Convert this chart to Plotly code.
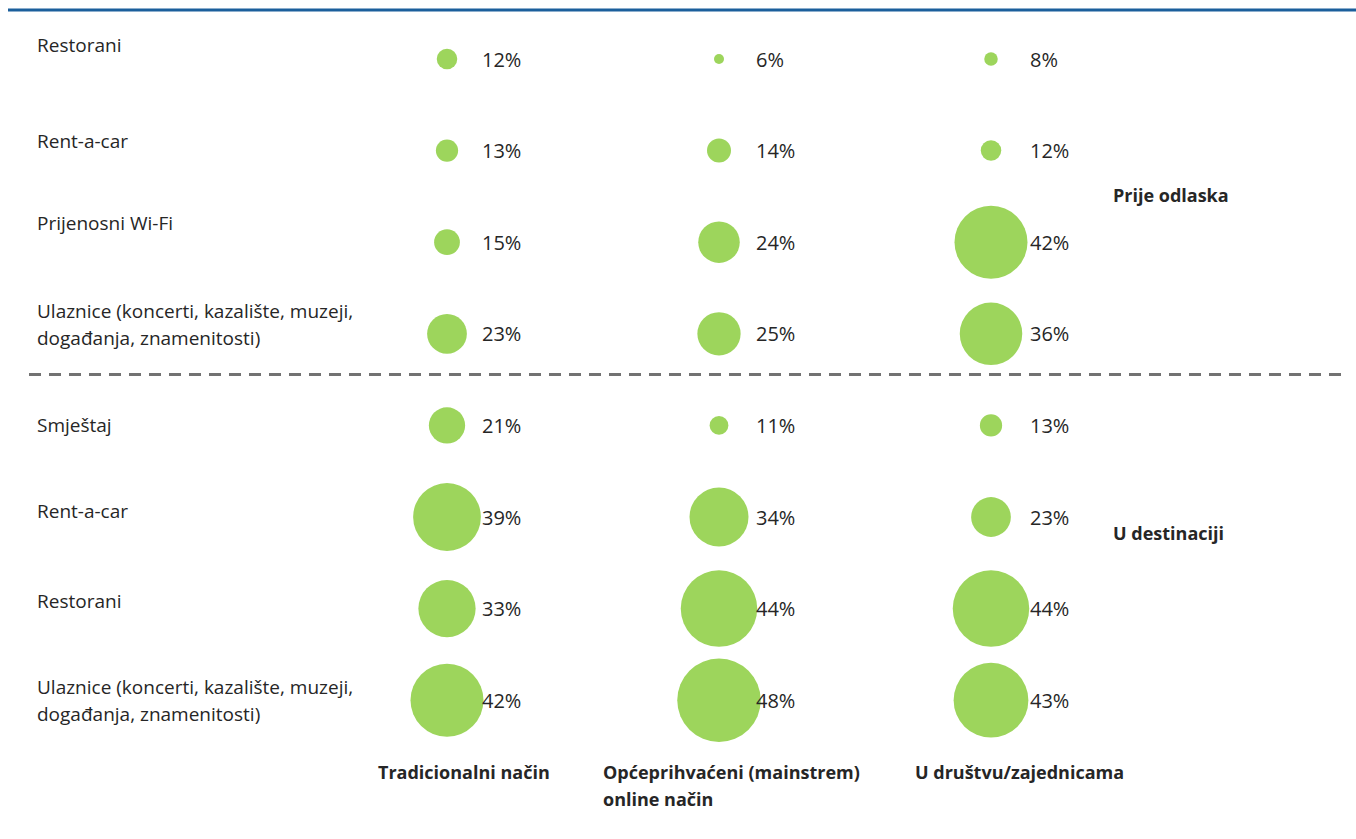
import plotly.graph_objects as go

# Survey categories (rows, top to bottom) and booking channels (columns)
rows = [
    "Restorani",
    "Rent-a-car",
    "Prijenosni Wi-Fi",
    "Ulaznice (koncerti, kazalište, muzeji,\ndogađanja, znamenitosti)",
    "Smještaj",
    "Rent-a-car",
    "Restorani",
    "Ulaznice (koncerti, kazalište, muzeji,\ndogađanja, znamenitosti)",
]
channels = [
    "Tradicionalni način",
    "Općeprihvaćeni (mainstrem)\nonline način",
    "U društvu/zajednicama",
]
groups = ["Prije odlaska", "U destinaciji"]

# Share of respondents (%) per row, one list per channel
tradicionalni = [12, 13, 15, 23, 21, 39, 33, 42]
mainstream = [6, 14, 24, 25, 11, 34, 44, 48]
zajednice = [8, 12, 42, 36, 13, 23, 44, 43]
series = [tradicionalni, mainstream, zajednice]

GREEN = "#9dd55c"
TEXT = "#262626"
FONT = "Open Sans, sans-serif"

W, H = 1356, 839
X0, DX = 447, 272      # pixel centre of first column, column spacing
Y0, DY = 59, 91.6      # pixel centre of first row, row spacing

fig = go.Figure()

for ci, vals in enumerate(series):
    fig.add_trace(go.Scatter(
        x=[ci] * len(vals),
        y=list(range(len(vals))),
        mode="markers",
        marker=dict(
            size=[1.75 * v - 0.5 for v in vals],
            sizemode="diameter",
            color=GREEN,
            opacity=1,
            line=dict(width=0),
        ),
        hovertemplate="%{customdata}%<extra></extra>",
        customdata=vals,
        showlegend=False,
    ))
    for ri, v in enumerate(vals):
        fig.add_annotation(
            x=ci, y=ri, text=f"{v}%", showarrow=False,
            xanchor="left", yanchor="middle", xshift=33 + 2 * ci,
            font=dict(family=FONT, size=20, color=TEXT),
        )

# Row labels on the left
label_shift = [14, 10, 19, 9, 0, 6, 8, 0]
for ri, lab in enumerate(rows):
    lines = lab.split("\n")
    n = len(lines)
    for li, line in enumerate(lines):
        fig.add_annotation(
            x=35 / W, xref="paper", y=ri, yref="y", text=line, showarrow=False,
            xanchor="left", yanchor="middle",
            yshift=label_shift[ri] + (n - 1) * 13.5 - li * 27,
            font=dict(family=FONT, size=19, color=TEXT),
        )

# Group labels on the right
for gi, g in enumerate(groups):
    fig.add_annotation(
        x=1111 / W, xref="paper", y=1 - (195 if gi == 0 else 533) / H, yref="paper",
        text=f"<b>{g}</b>", showarrow=False, xanchor="left", yanchor="middle",
        font=dict(family=FONT, size=18, color=TEXT),
    )

# Column labels under the chart
col_left = [376, 601, 913]
for ci, ch in enumerate(channels):
    for li, line in enumerate(ch.split("\n")):
        fig.add_annotation(
            x=col_left[ci] / W, xref="paper", y=1 - (772 + 27 * li) / H, yref="paper",
            text=f"<b>{line}</b>", showarrow=False, xanchor="left", yanchor="middle",
            font=dict(family=FONT, size=18, color=TEXT),
        )

# Top rule and dashed divider between the two groups
fig.add_shape(type="line", xref="paper", yref="paper",
              x0=8 / W, x1=1, y0=1 - 10 / H, y1=1 - 10 / H,
              line=dict(color="#1b5f9c", width=3))
fig.add_shape(type="line", xref="paper", yref="y",
              x0=29 / W, x1=1347 / W, y0=3.445, y1=3.445,
              line=dict(color="#727272", width=3, dash="12px,8px"))

fig.update_xaxes(range=[-X0 / DX, (W - X0) / DX], visible=False, fixedrange=True)
fig.update_yaxes(range=[(H - Y0) / DY, -Y0 / DY], visible=False, fixedrange=True)
fig.update_layout(
    width=W, height=H,
    margin=dict(l=0, r=0, t=0, b=0),
    paper_bgcolor="white", plot_bgcolor="white",
    font=dict(family=FONT, color=TEXT),
)

fig.write_html("out.html")
